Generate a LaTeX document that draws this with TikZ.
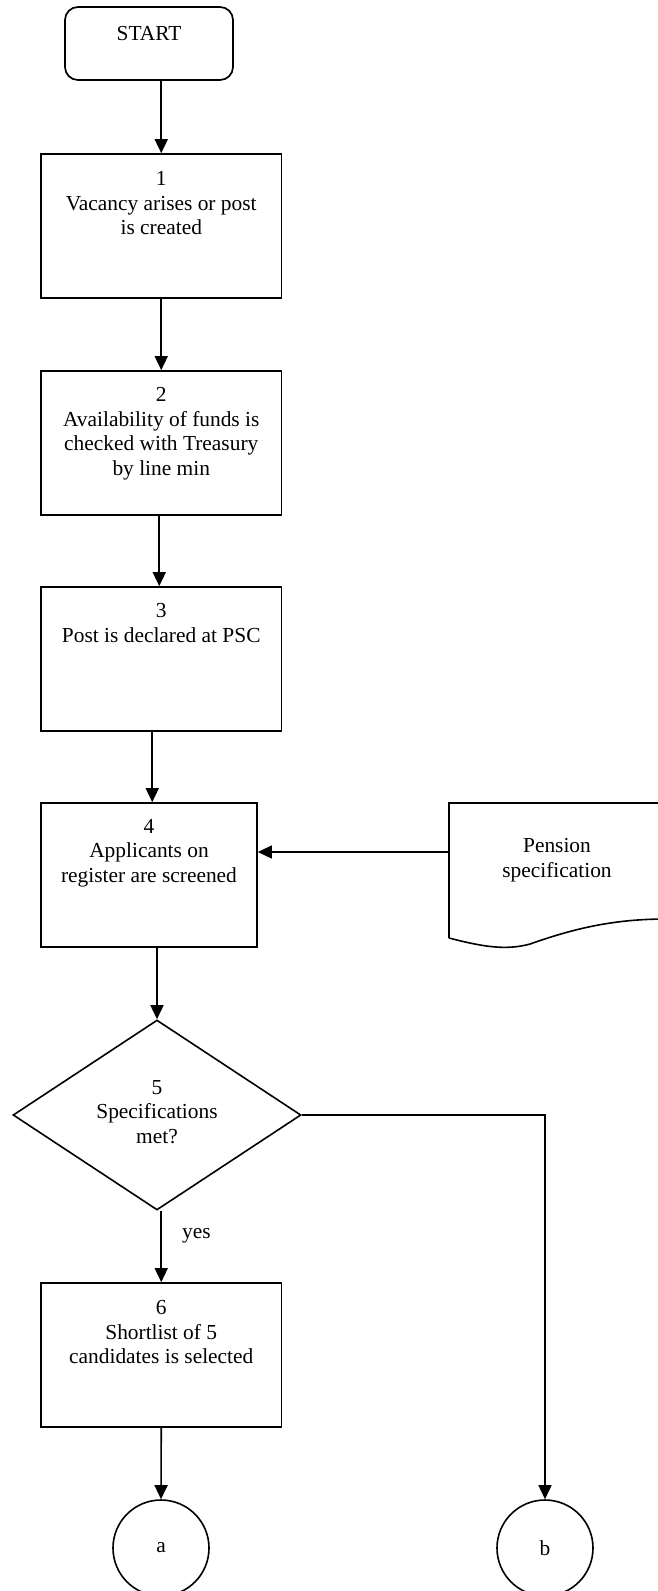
\documentclass[tikz,border=0pt]{standalone}
\usepackage{fontspec}
\setmainfont{Liberation Serif}
\usetikzlibrary{shapes.geometric,arrows.meta}
\begin{document}
\begin{tikzpicture}[x=1pt,y=-1pt,
  every node/.style={font=\fontsize{21.4}{24.7}\selectfont},
  stepbox/.style={draw, line width=1.7pt, minimum width=240.5pt, minimum height=144pt, inner sep=0pt},
  txt/.style={align=center, inner sep=0pt, anchor=north},
  arr/.style={-{Triangle[length=14pt,width=13pt]}, line width=1.6pt},
  connector/.style={draw, circle, line width=1.6pt, minimum size=96pt, inner sep=0pt}]
\useasboundingbox (0,0) rectangle (657,1591);

% start terminal
\node[draw, line width=1.7pt, rounded corners=13pt, minimum width=168pt, minimum height=73pt, inner sep=0pt] (start) at (149,43.5) {};
\node[txt] (tstart) at (149,26) {START};

% process boxes
\node[stepbox] (b1) at (161.25,226) {};
\node[txt] (t1) at (161.25,171) {1\\Vacancy arises or post\\is created};

\node[stepbox] (b2) at (161.25,443) {};
\node[txt] (t2) at (161.25,387) {2\\Availability of funds is\\checked with Treasury\\by line min};

\node[stepbox] (b3) at (161.25,659) {};
\node[txt] (t3) at (161.25,603) {3\\Post is declared at PSC};

\node[stepbox, minimum width=216pt] (b4) at (149,875) {};
\node[txt] (t4) at (149,819) {4\\Applicants on\\register are screened};

% pension specification document
\draw[line width=1.6pt] (449,938) -- (449,803) -- (666,803) -- (666,919)
  .. controls (610,919) and (570,930) .. (530,944)
  .. controls (505,951) and (480,946) .. (449,938);
\node[txt] (tpen) at (557,838) {Pension\\specification};
\coordinate (penw) at (449,852);

% decision
\node[draw, diamond, line width=1.6pt, minimum width=288pt, minimum height=190pt, inner sep=0pt] (d) at (157,1115) {};
\node[txt] (t5) at (157,1080) {5\\Specifications\\met?};

\node[stepbox] (b6) at (161.25,1355) {};
\node[txt] (t6) at (161.25,1300) {6\\Shortlist of 5\\candidates is selected};

% off-page connectors
\node[connector] (ca) at (161,1548) {a};
\node[connector] (cb) at (545,1548) {b};

% flow
\draw[arr] (start.south -| b1.north) -- (b1.north);
\draw[arr] (b1.south) -- (b2.north);
\draw[arr] ([xshift=-2pt]b2.south) -- ([xshift=-2pt]b3.north);
\draw[arr] ([xshift=-9pt]b3.south) -- ([xshift=-9pt]b3.south |- b4.north);
\draw[arr] (penw) -- (penw -| b4.east);
\draw[arr] (b4.south -| d.north) -- (d.north);
\draw[arr] (d.south -| b6.north) -- node[right=20pt, pos=0.35, inner sep=0pt] (tyes) {yes} (b6.north);
\draw[arr] (b6.south) -- (ca.north);
\draw[arr] (d.east) -| (cb.north);
\end{tikzpicture}
\end{document}
